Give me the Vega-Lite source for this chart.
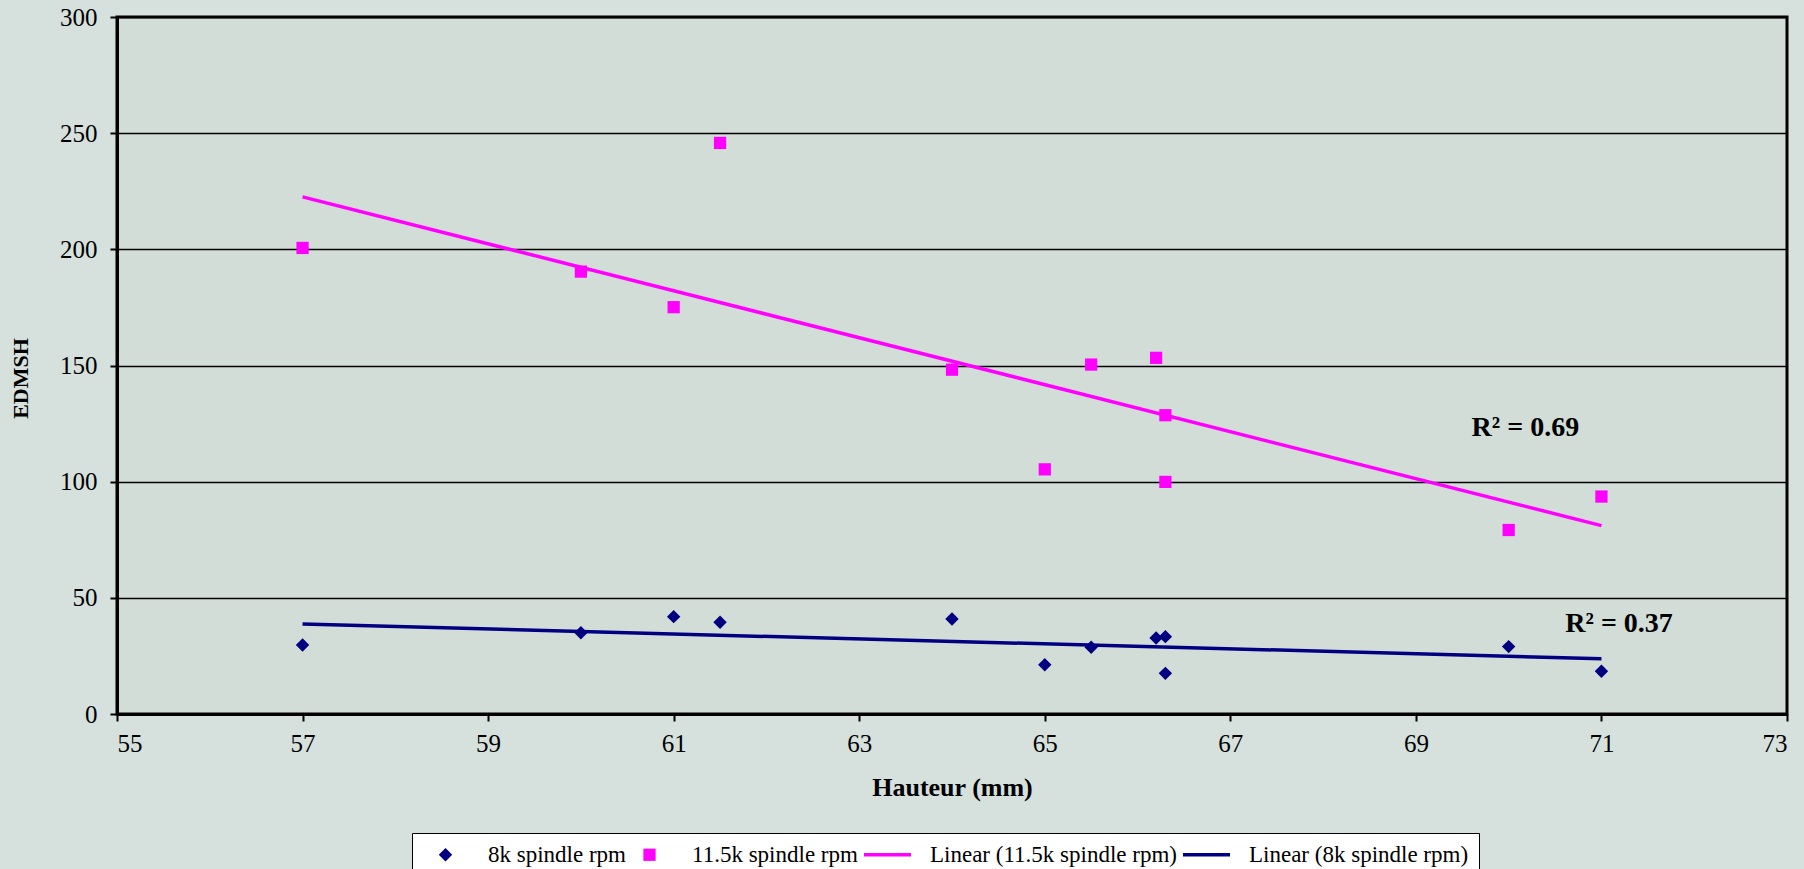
{
  "$schema": "https://vega.github.io/schema/vega-lite/v6.json",
  "autosize": {"type": "none"},
  "padding": {"left": 117, "top": 17, "right": 17, "bottom": 155},
  "width": 1670,
  "height": 697,
  "background": "#d6e0dc",
  "datasets": {
    "pts": [
      {"x": 57, "y": 29.7, "series": "8k spindle rpm", "kind": "point"},
      {"x": 60, "y": 35.0, "series": "8k spindle rpm", "kind": "point"},
      {"x": 61, "y": 41.9, "series": "8k spindle rpm", "kind": "point"},
      {"x": 61.5, "y": 39.5, "series": "8k spindle rpm", "kind": "point"},
      {"x": 64, "y": 40.9, "series": "8k spindle rpm", "kind": "point"},
      {"x": 65, "y": 21.2, "series": "8k spindle rpm", "kind": "point"},
      {"x": 65.5, "y": 28.7, "series": "8k spindle rpm", "kind": "point"},
      {"x": 66.2, "y": 32.7, "series": "8k spindle rpm", "kind": "point"},
      {"x": 66.3, "y": 33.3, "series": "8k spindle rpm", "kind": "point"},
      {"x": 66.3, "y": 17.5, "series": "8k spindle rpm", "kind": "point"},
      {"x": 70, "y": 29.0, "series": "8k spindle rpm", "kind": "point"},
      {"x": 71, "y": 18.4, "series": "8k spindle rpm", "kind": "point"},
      {"x": 57, "y": 200.6, "series": "11.5k spindle rpm", "kind": "point"},
      {"x": 60, "y": 190.4, "series": "11.5k spindle rpm", "kind": "point"},
      {"x": 61, "y": 175.1, "series": "11.5k spindle rpm", "kind": "point"},
      {"x": 61.5, "y": 245.8, "series": "11.5k spindle rpm", "kind": "point"},
      {"x": 64, "y": 148.2, "series": "11.5k spindle rpm", "kind": "point"},
      {"x": 65, "y": 105.3, "series": "11.5k spindle rpm", "kind": "point"},
      {"x": 65.5, "y": 150.4, "series": "11.5k spindle rpm", "kind": "point"},
      {"x": 66.2, "y": 153.3, "series": "11.5k spindle rpm", "kind": "point"},
      {"x": 66.3, "y": 128.6, "series": "11.5k spindle rpm", "kind": "point"},
      {"x": 66.3, "y": 99.9, "series": "11.5k spindle rpm", "kind": "point"},
      {"x": 70, "y": 79.2, "series": "11.5k spindle rpm", "kind": "point"},
      {"x": 71, "y": 93.6, "series": "11.5k spindle rpm", "kind": "point"},
      {"x": 57, "y": 222.6, "series": "Linear (11.5k spindle rpm)", "kind": "trend"},
      {"x": 71, "y": 81.1, "series": "Linear (11.5k spindle rpm)", "kind": "trend"},
      {"x": 57, "y": 38.7, "series": "Linear (8k spindle rpm)", "kind": "trend"},
      {"x": 71, "y": 23.8, "series": "Linear (8k spindle rpm)", "kind": "trend"}
    ],
    "r2": [
      {"x": 70.18, "y": 119.5, "label": "R² = 0.69"},
      {"x": 71.19, "y": 35.3, "label": "R² = 0.37"}
    ]
  },
  "layer": [
    {
      "data": {"name": "pts"},
      "transform": [{"filter": "datum.kind == 'trend'"}],
      "mark": {"type": "line", "strokeWidth": 3.5},
      "encoding": {
        "x": {"field": "x", "type": "quantitative"},
        "y": {"field": "y", "type": "quantitative"},
        "color": {"field": "series", "type": "nominal",
          "scale": {"domain": ["8k spindle rpm", "11.5k spindle rpm", "Linear (11.5k spindle rpm)", "Linear (8k spindle rpm)"],
                    "range": ["#000080", "#FF00FF", "#FF00FF", "#000080"]},
          "legend": {
            "title": null, "orient": "none", "legendX": 295, "legendY": 816, "direction": "horizontal",
            "symbolOffset": 12, "labelOffset": 31, "columnPadding": -2, "padding": 10,
            "strokeColor": "black", "fillColor": "white",
            "labelFont": "Liberation Serif", "labelFontSize": 23, "labelColor": "black", "labelLimit": 400,
            "encode": {
              "symbols": {
                "update": {
                  "shape": {"scale": "shape", "field": "value"},
                  "fill": {"scale": "color", "field": "value"},
                  "stroke": {"scale": "color", "field": "value"},
                  "size": {"scale": "size", "field": "value"},
                  "strokeWidth": {"scale": "strokeWidth", "field": "value"},
                  "opacity": {"value": 1}
                }
              }
            }
          }
        }
      }
    },
    {
      "data": {"name": "pts"},
      "transform": [{"filter": "datum.kind == 'point'"}],
      "mark": {"type": "point", "filled": true, "opacity": 1},
      "encoding": {
        "x": {"field": "x", "type": "quantitative"},
        "y": {"field": "y", "type": "quantitative"},
        "color": {"field": "series", "type": "nominal"},
        "shape": {"field": "series", "type": "nominal", "legend": null,
          "scale": {"domain": ["8k spindle rpm", "11.5k spindle rpm", "Linear (11.5k spindle rpm)", "Linear (8k spindle rpm)"],
                    "range": ["diamond", "square", "M-2.474,0H2.474", "M-2.474,0H2.474"]}},
        "size": {"field": "series", "type": "nominal", "legend": null,
          "scale": {"type": "ordinal", "domain": ["8k spindle rpm", "11.5k spindle rpm", "Linear (11.5k spindle rpm)", "Linear (8k spindle rpm)"],
                    "range": [180, 150, 361, 361]}},
        "strokeWidth": {"field": "series", "type": "nominal", "legend": null,
          "scale": {"type": "ordinal", "domain": ["8k spindle rpm", "11.5k spindle rpm", "Linear (11.5k spindle rpm)", "Linear (8k spindle rpm)"],
                    "range": [0, 0, 3.5, 3.5]}}
      }
    },
    {
      "data": {"name": "r2"},
      "mark": {"type": "text", "font": "Liberation Serif", "fontWeight": "bold", "fontSize": 28, "align": "center", "baseline": "alphabetic", "color": "black"},
      "encoding": {
        "x": {"field": "x", "type": "quantitative"},
        "y": {"field": "y", "type": "quantitative"},
        "text": {"field": "label"}
      }
    }
  ],
  "encoding": {
    "x": {"field": "x", "type": "quantitative",
      "scale": {"domain": [55, 73], "nice": false, "zero": false},
      "axis": {"title": "Hauteur (mm)", "values": [55, 57, 59, 61, 63, 65, 67, 69, 71, 73], "grid": false,
        "titleX": 835, "titleY": 81, "titleAlign": "center", "titleBaseline": "alphabetic",
        "labelBaseline": "alphabetic", "labelPadding": 30}},
    "y": {"field": "y", "type": "quantitative",
      "scale": {"domain": [0, 300], "nice": false},
      "axis": {"title": "EDMSH", "values": [0, 50, 100, 150, 200, 250, 300], "grid": true,
        "titleX": -90, "titleY": 361, "titleAngle": -90, "titleAlign": "center", "titleBaseline": "alphabetic",
        "labelPadding": 13}}
  },
  "config": {
    "view": {"stroke": "black", "strokeWidth": 3, "fill": "#d3ddd8"},
    "axis": {
      "domainColor": "black", "domainWidth": 3,
      "tickColor": "black", "tickWidth": 2, "tickSize": 7,
      "gridColor": "black", "gridWidth": 1.5, "gridOpacity": 1,
      "labelFont": "Liberation Serif", "labelFontSize": 25, "labelColor": "black",
      "titleFont": "Liberation Serif", "titleFontWeight": "bold", "titleColor": "black"
    },
    "axisX": {"titleFontSize": 26},
    "axisY": {"titleFontSize": 22}
  }
}
